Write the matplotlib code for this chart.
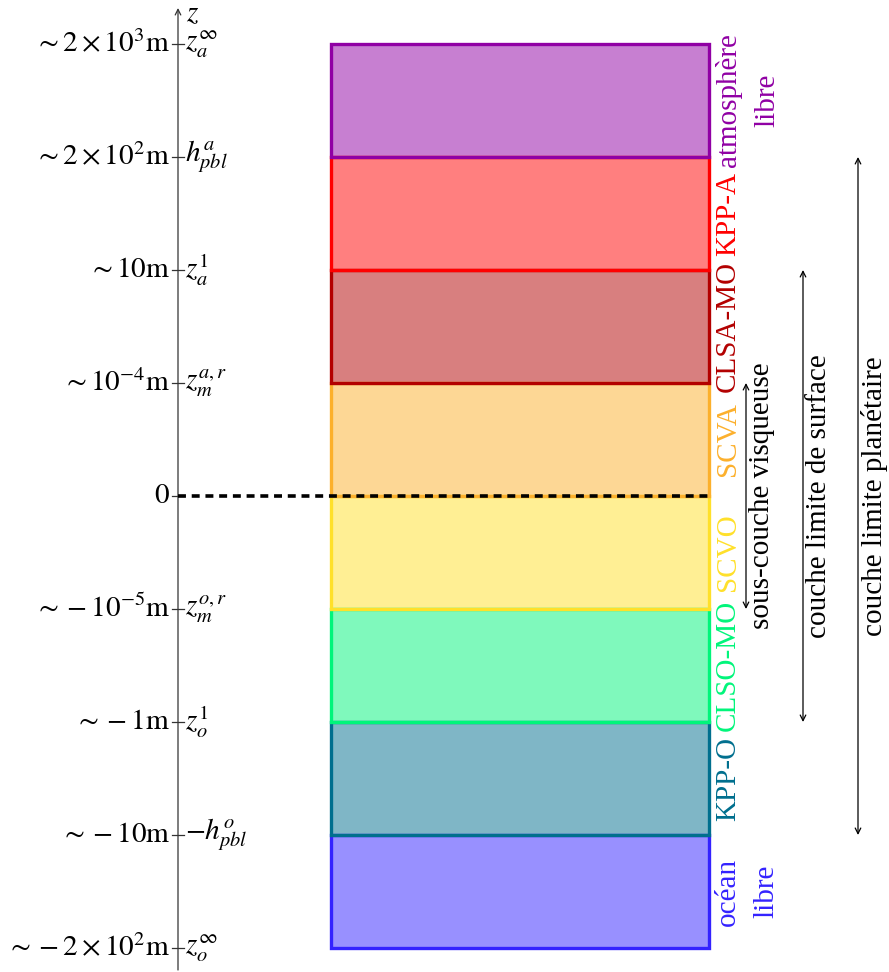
import matplotlib
matplotlib.use("Agg")
import matplotlib.pyplot as plt
from matplotlib.patches import Rectangle

plt.rcParams['font.family'] = ['Liberation Serif', 'DejaVu Serif']
plt.rcParams['mathtext.fontset'] = 'stix'

# niveaux, du bas (0) vers le haut (8)
left_labels = [r'$\sim -2\times 10^{2}\mathrm{m}$', r'$\sim -10\mathrm{m}$', r'$\sim -1\mathrm{m}$',
               r'$\sim -10^{-5}\mathrm{m}$', r'$0$', r'$\sim 10^{-4}\mathrm{m}$',
               r'$\sim 10\mathrm{m}$', r'$\sim 2\times 10^{2}\mathrm{m}$', r'$\sim 2\times 10^{3}\mathrm{m}$']
right_labels = [r'$z_o^{\infty}$', r'$-h_{pbl}^{o}$', r'$z_o^{1}$', r'$z_m^{o,r}$', '',
                r'$z_m^{a,r}$', r'$z_a^{1}$', r'$h_{pbl}^{a}$', r'$z_a^{\infty}$']

# couches, du bas vers le haut
layer_names = ['océan\nlibre', 'KPP-O', 'CLSO-MO', 'SCVO', 'SCVA', 'CLSA-MO', 'KPP-A', 'atmosphère\nlibre']
layer_colors = ['#3322ff', '#006f8e', '#00f57a', '#ffe02a', '#fcb02c', '#b30000', '#ff0000', '#9000a4']

# zones (niveau bas, niveau haut)
zone_names = ['sous-couche visqueuse', 'couche limite de surface', 'couche limite planétaire']
zone_levels = [(3, 5), (2, 6), (1, 7)]

W, H = 889, 972
y0, dy = 948, 113  # pixel du niveau 0, pas entre niveaux

fig = plt.figure(figsize=(W / 100, H / 100), dpi=100)
ax = fig.add_axes([0, 0, 1, 1])
ax.set_xlim(0, W)
ax.set_ylim(-(H - y0) / dy, y0 / dy)
ax.axis('off')

fs = 21
xaxis = 178
x_left, x_right = 331, 709

# axe z
ax.annotate('', xy=(xaxis, y0 / dy - 8 / dy), xytext=(xaxis, -(H - y0 - 2) / dy),
            arrowprops=dict(arrowstyle='->', lw=0.9, color='#333333', shrinkA=0, shrinkB=0))
ax.text(xaxis + 8, (y0 - 14) / dy, r'$z$', fontsize=fs, ha='left', va='center')

for i in range(len(left_labels)):
    ax.plot([xaxis - 6, xaxis + 6], [i, i], color='#333333', lw=0.9)
    ax.text(xaxis - 8, i, left_labels[i], fontsize=fs, ha='right', va='center')
    if right_labels[i]:
        ax.text(xaxis + 7, i, right_labels[i], fontsize=fs, ha='left', va='center')

# couches
for k in range(len(layer_names)):
    c = layer_colors[k]
    ax.add_patch(Rectangle((x_left, k), x_right - x_left, 1, facecolor=c, alpha=0.5,
                           edgecolor='none', zorder=2))
    ax.add_patch(Rectangle((x_left, k), x_right - x_left, 1, facecolor='none',
                           edgecolor=c, lw=2.4, zorder=3 + k))
    ax.text(715, k + 0.5, layer_names[k], color=c, fontsize=fs, rotation=90,
            ha='left', va='center', multialignment='center', linespacing=1.62)

# surface
ax.plot([xaxis, x_right], [4, 4], color='black', lw=2.6, ls=(0, (2.2, 1.6)), zorder=20)

# zones
zone_x = [746, 803, 858]
for j in range(len(zone_names)):
    lo, hi = zone_levels[j]
    ax.annotate('', xy=(zone_x[j], hi), xytext=(zone_x[j], lo),
                arrowprops=dict(arrowstyle='<->', lw=0.9, color='black', shrinkA=0, shrinkB=0))
    ax.text(zone_x[j] + 3, (lo + hi) / 2, zone_names[j], fontsize=fs, rotation=90,
            ha='left', va='center')

fig.savefig('out.png', dpi=100)
